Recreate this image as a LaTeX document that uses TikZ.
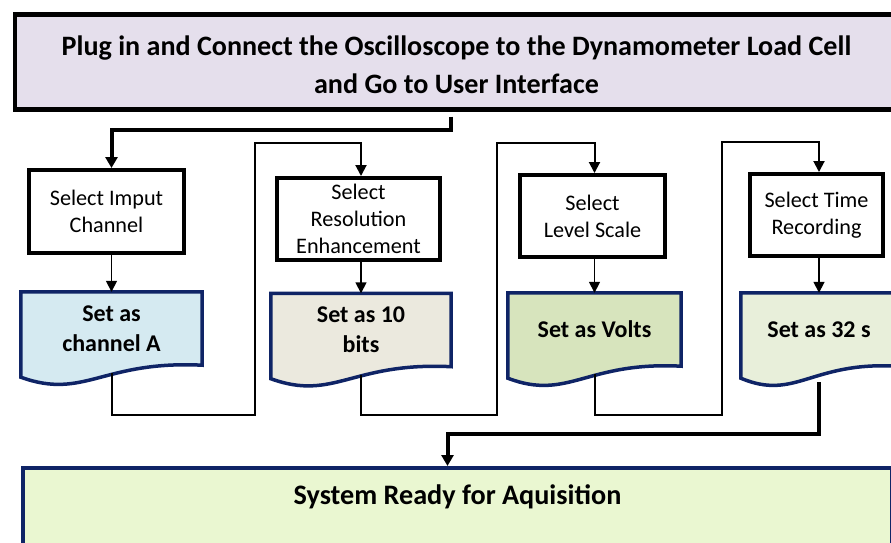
\documentclass[tikz,border=0pt]{standalone}
\usepackage{fontspec}
\setmainfont{Carlito}
\usepackage{xcolor}
\usetikzlibrary{calc, arrows.meta, backgrounds}

\definecolor{navyline}{HTML}{0F2466}
\definecolor{topfill}{HTML}{E5DFEC}
\definecolor{chanfill}{HTML}{D5EAF1}
\definecolor{bitsfill}{HTML}{EBE9DE}
\definecolor{voltfill}{HTML}{D7E4BD}
\definecolor{timefill}{HTML}{E8EFDA}
\definecolor{readyfill}{HTML}{EAF7D1}

\begin{document}
\begin{tikzpicture}[x=1pt, y=-1pt,
        selbox/.style={draw, line width=4pt, inner sep=2pt, align=center, font=\fontsize{22.2}{27}\selectfont},
        docbox/.style={inner sep=0pt, align=center, font=\bfseries\fontsize{24}{30}\selectfont},
        docline/.style={draw=navyline, line width=3.5pt},
        lane/.style={line width=2pt, -{Triangle[length=11pt, width=11pt]}},
        arr/.style={line width=1.6pt, -{Triangle[length=11pt, width=11pt]}},
        bigarr/.style={line width=4pt, -{Triangle[length=11pt, width=12pt]}}]
        \useasboundingbox (0,0) rectangle (891,542);

        \node[draw, fill=topfill, line width=4.5pt, inner sep=0pt, text width=883pt, align=flush center,
              text height=41pt, text depth=54pt, anchor=north,
              font=\bfseries\fontsize{28.1}{38}\selectfont] (top) at (456.5,12)
              {Plug in and Connect the Oscilloscope to the Dynamometer Load Cell\\and Go to User Interface};

        \node[selbox, minimum width=155pt, minimum height=83pt] (s1) at (106.5,211.5) {Select Imput\\Channel};
        \node[selbox, minimum width=163pt, minimum height=82pt] (s2) at (358.5,219) {Select\\Resolution\\Enhancement};
        \node[selbox, minimum width=145pt, minimum height=82pt] (s3) at (592.5,216) {Select\\Level Scale};
        \node[selbox, minimum width=133pt, minimum height=82pt] (s4) at (816.5,215) {Select Time\\Recording};

        \node[docbox, minimum width=181pt, minimum height=73pt] (d1) at (111.5,328.5) {Set as\\channel A};
        \node[docbox, minimum width=180pt, minimum height=73pt] (d2) at (361,330) {Set as 10\\bits};
        \node[docbox, minimum width=173pt, minimum height=73pt] (d3) at (594.5,329.5) {Set as Volts};
        \node[docbox, minimum width=156pt, minimum height=73pt] (d4) at (819,329.5) {Set as 32 s};

        \node[draw=navyline, fill=readyfill, line width=4pt, inner sep=0pt, text width=869pt, align=flush center,
              text height=36pt, text depth=100pt, anchor=north,
              font=\bfseries\fontsize{28.2}{30}\selectfont] (ready) at (457.5,466) {System Ready for Aquisition};

        % wavy document shapes
        \begin{scope}[on background layer]
            \foreach \d/\c in {d1/chanfill, d2/bitsfill, d3/voltfill, d4/timefill}
                \filldraw[docline, fill=\c] (\d.north west) -- (\d.north east) -- (\d.south east)
                    .. controls ($(\d.south east)!0.55!(\d.south west)+(0pt,5pt)$)
                    and ($(\d.south east)!0.65!(\d.south west)+(0pt,-35pt)$)
                    .. ($(\d.south west)+(0pt,-12pt)$) -- cycle;
        \end{scope}

        \coordinate (lane1) at (255,143);
        \coordinate (lane2) at (497,143);
        \coordinate (lane3) at (722,142);

        \draw[bigarr] ([xshift=-6pt,yshift=-5pt]top.south) -- ++(0,13) -| (d1.north |- s1.north);

        \draw[arr] (s1.south -| d1.north) -- (d1.north);
        \draw[arr] (s2.south -| d2.north) -- (d2.north);
        \draw[arr] (s3.south -| d3.north) -- (d3.north);
        \draw[arr] (s4.south -| d4.north) -- (d4.north);

        \draw[lane] ([yshift=-8pt]d1.south) -- ++(0,42) -| (lane1) -| (s2.north -| d2.north);
        \draw[lane] ([yshift=-8pt]d2.south) -- ++(0,40.5) -| (lane2) -| (s3.north -| d3.north);
        \draw[lane] ([yshift=-8pt]d3.south) -- ++(0,41) -| (lane3) -| (s4.north -| d4.north);

        \draw[bigarr] ([yshift=-16pt]d4.south) -- ++(0,52) -| ([xshift=-10pt]ready.north);
    \end{tikzpicture}
\end{document}
